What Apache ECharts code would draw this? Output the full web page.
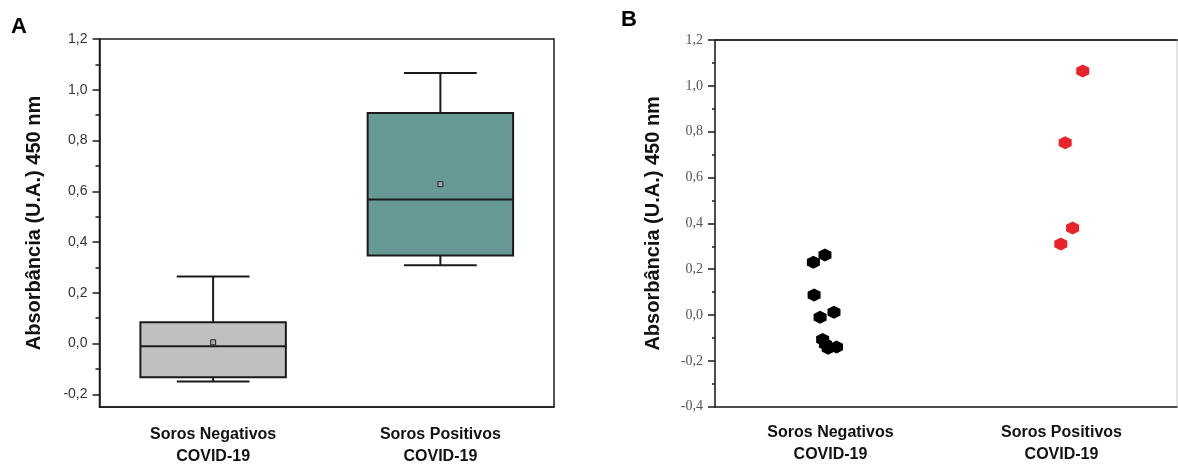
<!DOCTYPE html>
<html><head><meta charset="utf-8">
<script src="https://cdn.jsdelivr.net/npm/echarts@6/dist/echarts.min.js"></script>
<style>html,body{margin:0;padding:0;background:#fff}#c{width:1178px;height:466px}</style>
</head><body><div id="c"></div>
<script>
// ---- data ----
const categories = ['Soros Negativos\nCOVID-19', 'Soros Positivos\nCOVID-19'];
// box stats: min, q1, median, q3, max, mean
const boxNegativos = [-0.150, -0.133, -0.011, 0.084, 0.264, 0.005];
const boxPositivos = [0.309, 0.347, 0.568, 0.908, 1.066, 0.628];
// panel B individual sera (x = position within category band 0..2)
const negX = [0.476, 0.426, 0.429, 0.515, 0.455, 0.466, 0.478, 0.490, 0.526];
const negY = [0.262, 0.230, 0.087, 0.012, -0.010, -0.107, -0.127, -0.145, -0.140];
const posX = [1.592, 1.516, 1.548, 1.497];
const posY = [1.065, 0.752, 0.380, 0.310];
const yTicksA = [-0.2, 0, 0.2, 0.4, 0.6, 0.8, 1.0, 1.2];
const yMinorTicksA = [-0.1, 0.1, 0.3, 0.5, 0.7, 0.9, 1.1];
const yTitle = 'Absorbância (U.A.) 450 nm';

// ---- chart ----
const chart = echarts.init(document.getElementById('c'), null, {renderer: 'canvas'});
const dark = '#1a1a1a';
const fmt = v => (Math.round(v * 10) / 10).toFixed(1).replace('.', ',').replace('-0,0', '0,0');
const boxColors = ['#c0c0c0', '#679a97'];
const hex = 'path://M50,0 L93.3,25 L93.3,75 L50,100 L6.7,75 L6.7,25 Z';
const catLabel = {fontFamily: 'Liberation Sans', fontWeight: 'bold', fontSize: 16, color: '#111', lineHeight: 22};
const titleStyle = {fontFamily: 'Liberation Sans', fontWeight: 'bold', fontSize: 20, color: '#111'};

const option = {
  animation: false,
  backgroundColor: '#fff',
  graphic: [
    {type: 'text', left: 11, top: 16, style: {text: 'A', font: 'bold 22px "Liberation Sans"', fill: '#000'}},
    {type: 'text', left: 621, top: 9, style: {text: 'B', font: 'bold 22px "Liberation Sans"', fill: '#000'}}
  ],
  grid: [
    {left: 99.5, top: 39, width: 454.5, height: 368, show: true, borderColor: dark, borderWidth: 1.5,
     containLabel: false, outerBoundsMode: 'none'},
    {left: 715, top: 40, width: 462, height: 366.7, show: true, borderColor: '#c8c8c8', borderWidth: 1,
     containLabel: false, outerBoundsMode: 'none'}
  ],
  xAxis: [
    {gridIndex: 0, type: 'category', data: categories, position: 'bottom',
     axisLine: {onZero: false, lineStyle: {color: dark, width: 1.5}},
     axisTick: {alignWithLabel: true, length: 6, lineStyle: {color: dark, width: 1.5}},
     axisLabel: Object.assign({margin: 17}, catLabel), splitLine: {show: false}},
    {gridIndex: 1, type: 'category', data: categories, position: 'bottom',
     axisLine: {onZero: false, lineStyle: {color: dark, width: 1.5}},
     axisTick: {alignWithLabel: true, length: 5, lineStyle: {color: dark, width: 1.5}},
     axisLabel: Object.assign({margin: 15}, catLabel), splitLine: {show: false}},
    {gridIndex: 1, type: 'value', min: 0, max: 2, position: 'top',
     axisLine: {show: true, onZero: false, lineStyle: {color: '#333', width: 2}},
     axisTick: {show: false}, axisLabel: {show: false}, splitLine: {show: false}}
  ],
  yAxis: [
    {gridIndex: 0, type: 'value', min: -0.25, max: 1.2,
     name: yTitle, nameLocation: 'middle', nameGap: 55, nameTextStyle: titleStyle,
     axisLine: {show: true, onZero: false, lineStyle: {color: dark, width: 1.5}},
     axisTick: {show: true, customValues: yTicksA, length: 7, lineStyle: {color: dark, width: 1.5}},
     axisLabel: {customValues: yTicksA, formatter: fmt, margin: 12, fontFamily: 'Liberation Sans', fontSize: 14, color: '#333'},
     splitLine: {show: false}},
    {gridIndex: 0, type: 'value', min: -0.25, max: 1.2, position: 'left',
     axisLine: {show: false},
     axisTick: {show: true, customValues: yMinorTicksA, length: 4, lineStyle: {color: dark, width: 1.5}},
     axisLabel: {show: false}, splitLine: {show: false}},
    {gridIndex: 1, type: 'value', min: -0.4, max: 1.2, interval: 0.2,
     name: yTitle, nameLocation: 'middle', nameGap: 52, nameTextStyle: titleStyle,
     axisLine: {show: true, onZero: false, lineStyle: {color: dark, width: 1.5}},
     axisTick: {show: true, length: 7, lineStyle: {color: dark, width: 1.5}},
     minorTick: {show: true, splitNumber: 2, length: 3, lineStyle: {color: dark, width: 1.5}},
     axisLabel: {formatter: fmt, margin: 12, fontFamily: 'Liberation Serif', fontSize: 14, color: '#555'},
     splitLine: {show: false}, minorSplitLine: {show: false}}
  ],
  series: [
    {type: 'custom', xAxisIndex: 0, yAxisIndex: 0,
     data: [[0].concat(boxNegativos), [1].concat(boxPositivos)],
     encode: {x: 0, y: [1, 2, 3, 4, 5, 6]},
     renderItem: function (params, api) {
       const i = api.value(0);
       const cx = api.coord([i, 0])[0];
       const bw = api.size([1, 0])[0] * 0.64;
       const cap = bw * 0.5;
       const y = k => api.coord([i, api.value(k)])[1];
       const yMin = y(1), yQ1 = y(2), yMed = y(3), yQ3 = y(4), yMax = y(5), yMean = y(6);
       const ls = {stroke: dark, lineWidth: 2};
       return {type: 'group', children: [
         {type: 'line', shape: {x1: cx, y1: yMax, x2: cx, y2: yQ3}, style: ls},
         {type: 'line', shape: {x1: cx - cap / 2, y1: yMax, x2: cx + cap / 2, y2: yMax}, style: ls},
         {type: 'line', shape: {x1: cx, y1: yQ1, x2: cx, y2: yMin}, style: ls},
         {type: 'line', shape: {x1: cx - cap / 2, y1: yMin, x2: cx + cap / 2, y2: yMin}, style: ls},
         {type: 'rect', shape: {x: cx - bw / 2, y: yQ3, width: bw, height: yQ1 - yQ3},
          style: {fill: boxColors[params.dataIndex], stroke: dark, lineWidth: 2}},
         {type: 'line', shape: {x1: cx - bw / 2, y1: yMed, x2: cx + bw / 2, y2: yMed}, style: {stroke: dark, lineWidth: 2}},
         {type: 'rect', shape: {x: cx - 2.5, y: yMean - 2.5, width: 5, height: 5},
          style: {fill: '#aaa', stroke: '#222', lineWidth: 1}}
       ]};
     }},
    {type: 'scatter', xAxisIndex: 2, yAxisIndex: 2, symbol: hex, symbolSize: 13,
     itemStyle: {color: '#000', opacity: 1}, data: negX.map((x, i) => [x, negY[i]])},
    {type: 'scatter', xAxisIndex: 2, yAxisIndex: 2, symbol: hex, symbolSize: 13,
     itemStyle: {color: '#e8232a', opacity: 1}, data: posX.map((x, i) => [x, posY[i]])}
  ]
};
chart.setOption(option);
</script>
</body></html>
